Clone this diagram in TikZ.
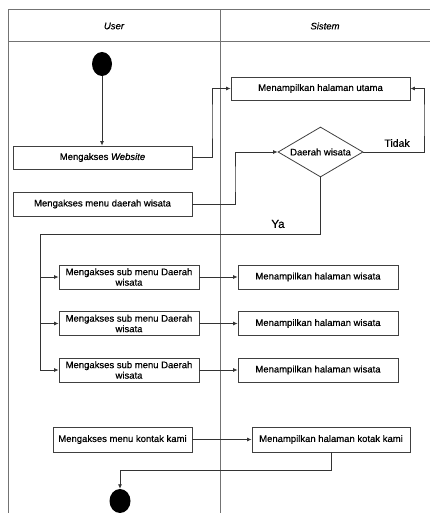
\documentclass[tikz,border=0pt]{standalone}
\usepackage{fontspec}
\setmainfont{Liberation Sans}[FakeBold=0.5]
\usetikzlibrary{arrows.meta,shapes.geometric}
\begin{document}
\begin{tikzpicture}[x=1pt,y=-1pt,
  lane/.style={draw=black!55,line width=1pt},
  act/.style={draw=black!75,line width=0.8pt,rectangle,inner sep=1pt,align=center,
    font=\fontsize{9.5}{10.5}\selectfont},
  decision/.style={draw=black!75,line width=0.8pt,diamond,inner sep=0pt,
    minimum width=85pt,minimum height=50pt,font=\fontsize{9.5}{10.5}\selectfont},
  dot/.style={fill=black,ellipse,inner sep=0pt},
  flow/.style={draw=black!80,line width=0.8pt,-{Latex[length=4.5pt,width=4pt]}},
  lbl/.style={font=\fontsize{10.5}{12}\selectfont}]
\useasboundingbox (0,0) rectangle (430,513);
% swimlane frame
\draw[lane] (8,513) -- (8,10) -- (430,10);
\draw[lane] (8,42) -- (430,42);
\draw[lane] (220,10) -- (220,513);
\node[font=\fontsize{9.5}{11}\selectfont\itshape] (hUser) at (114,26) {User};
\node[font=\fontsize{9.5}{11}\selectfont\itshape] (hSys) at (325,26) {Sistem};
% start / end
\node[dot,minimum width=20pt,minimum height=24pt] (start) at (102,64) {};
\node[dot,minimum width=21pt,minimum height=24pt] (stop) at (120,501) {};
% user actions
\node[act,minimum width=179pt,minimum height=23pt] (web) at (102.5,157.5) {Mengakses \textit{Website}};
\node[act,minimum width=179pt,minimum height=24pt] (menu) at (102.5,204) {Mengakses menu daerah wisata};
\node[act,minimum width=140pt,minimum height=24pt] (sub1) at (129,277) {Mengakses sub menu Daerah\\wisata};
\node[act,minimum width=140pt,minimum height=24pt] (sub2) at (129,323.5) {Mengakses sub menu Daerah\\wisata};
\node[act,minimum width=140pt,minimum height=24pt] (sub3) at (129,370) {Mengakses sub menu Daerah\\wisata};
\node[act,minimum width=139pt,minimum height=25pt] (kontak) at (122.5,439.5) {Mengakses menu kontak kami};
% system actions
\node[act,minimum width=179pt,minimum height=23pt] (utama) at (320.5,88.5) {Menampilkan halaman utama};
\node[decision] (dec) at (320.5,152) {\makebox[0pt]{Daerah wisata}};
\node[act,minimum width=160pt,minimum height=24pt] (wis1) at (318,277) {Menampilkan halaman wisata};
\node[act,minimum width=160pt,minimum height=24pt] (wis2) at (318,323.5) {Menampilkan halaman wisata};
\node[act,minimum width=160pt,minimum height=24pt] (wis3) at (318,370) {Menampilkan halaman wisata};
\node[act,minimum width=158pt,minimum height=25pt] (kotak) at (331,439.5) {Menampilkan halaman kotak kami};
% bend points
\coordinate (jWeb) at (212,120);
\coordinate (jNo) at (424,120);
\coordinate (jMenu) at (235,180);
\coordinate (jYes) at (40,234);
\coordinate (jEnd) at (250,470);
% connectors
\draw[flow] (start) -- (start |- web.north);
\draw[flow] (web.east) -| (jWeb) |- (utama.west);
\draw[flow] (dec.east) -| (jNo) |- (utama.east);
\draw[flow] (menu.east) -| (jMenu) |- (dec.west);
\draw[flow] (dec.south) |- (jYes) |- (sub3.west);
\draw[flow] (sub1.west -| jYes) -- (sub1.west);
\draw[flow] (sub2.west -| jYes) -- (sub2.west);
\draw[flow] (sub1.east) -- (wis1.west);
\draw[flow] (sub2.east) -- (wis2.west);
\draw[flow] (sub3.east) -- (wis3.west);
\draw[flow] (kontak.east) -- (kotak.west);
\draw[flow] (kotak.south) |- (stop.north |- jEnd) -- (stop.north);
% guard labels
\node[lbl] (tidak) at (397,143) {Tidak};
\node[lbl,font=\fontsize{11.5}{13}\selectfont] (ya) at (278,224) {Ya};
\end{tikzpicture}
\end{document}
